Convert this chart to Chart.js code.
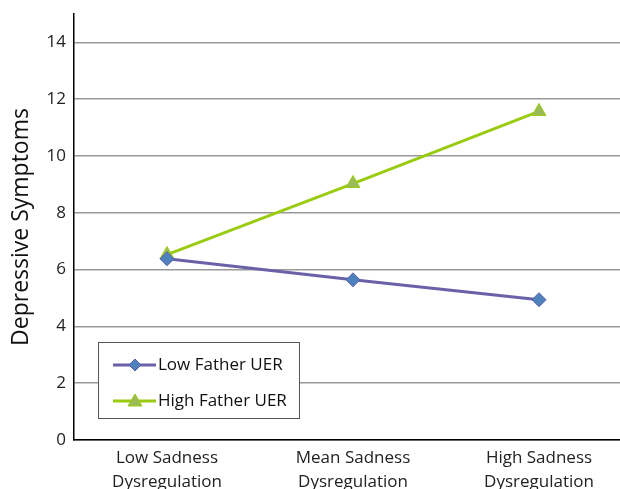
<!DOCTYPE html>
<html>
<head>
<meta charset="utf-8">
<script src="https://cdn.jsdelivr.net/npm/chart.js@4/dist/chart.umd.min.js"></script>
<style>
  html, body { margin: 0; padding: 0; background: #fff; overflow: hidden; }
  #wrap { position: relative; width: 641px; height: 489px; }
  #c { width: 641px; height: 489px; display: block; }
</style>
</head>
<body>
<div id="wrap"><canvas id="c" width="641" height="489"></canvas></div>
<script>
// Sadness dysregulation levels on the x axis
const categories = [["Low Sadness", "Dysregulation"], ["Mean Sadness", "Dysregulation"], ["High Sadness", "Dysregulation"]];
// Depressive symptoms by father unsupportive emotion responses (UER)
const lowFatherUER = [6.38, 5.64, 4.94];
const highFatherUER = [6.53, 9.03, 11.57];
const yTicks = [0, 2, 4, 6, 8, 10, 12, 14];

const FONT = "'Open Sans', Lato, sans-serif";

// Boxed legend drawn inside the plot, bottom-left
const boxLegend = {
  id: 'boxLegend',
  afterDraw(chart) {
    const ctx = chart.ctx;
    const x = 98, y = 342, w = 201, h = 76;
    ctx.save();
    ctx.fillStyle = '#fff';
    ctx.fillRect(x, y, w, h);
    ctx.strokeStyle = '#555';
    ctx.lineWidth = 1;
    ctx.strokeRect(x + 0.5, y + 0.5, w, h);
    chart.data.datasets.forEach((ds, i) => {
      const cy = y + 23 + i * 36;
      ctx.strokeStyle = ds.borderColor;
      ctx.lineWidth = 3;
      ctx.beginPath();
      ctx.moveTo(x + 15, cy);
      ctx.lineTo(x + 58, cy);
      ctx.stroke();
      ctx.fillStyle = ds.pointBackgroundColor;
      ctx.strokeStyle = ds.pointBorderColor;
      ctx.lineWidth = 1;
      ctx.beginPath();
      const cx = x + 37;
      if (ds.pointStyle === 'rectRot') {
        ctx.moveTo(cx, cy - 6); ctx.lineTo(cx + 6, cy); ctx.lineTo(cx, cy + 6); ctx.lineTo(cx - 6, cy);
      } else {
        ctx.moveTo(cx, cy - 7); ctx.lineTo(cx + 7, cy + 5); ctx.lineTo(cx - 7, cy + 5);
      }
      ctx.closePath();
      ctx.fill();
      ctx.stroke();
      ctx.fillStyle = '#111';
      ctx.font = '17px ' + FONT;
      ctx.textBaseline = 'middle';
      ctx.fillText(ds.label, x + 60, cy);
    });
    ctx.restore();
  }
};

new Chart(document.getElementById('c'), {
  type: 'line',
  data: {
    labels: categories,
    datasets: [
      {
        label: 'Low Father UER',
        data: lowFatherUER,
        borderColor: '#6962a8',
        borderWidth: 3,
        pointStyle: 'rectRot',
        pointRadius: 7,
        pointBackgroundColor: '#4f81bd',
        pointBorderColor: '#5b5ea6',
        pointBorderWidth: 1,
        tension: 0
      },
      {
        label: 'High Father UER',
        data: highFatherUER,
        borderColor: '#99cc11',
        borderWidth: 3,
        pointStyle: 'triangle',
        pointRadius: 8,
        pointBackgroundColor: '#9bbb59',
        pointBorderColor: '#99cc11',
        pointBorderWidth: 1,
        tension: 0
      }
    ]
  },
  options: {
    responsive: false,
    animation: false,
    layout: { padding: { top: 14, left: 0, right: 0, bottom: 0 } },
    plugins: { legend: { display: false }, tooltip: { enabled: false } },
    scales: {
      x: {
        offset: true,
        grid: { display: false, drawTicks: false },
        border: { display: true, color: '#000', width: 1.5 },
        ticks: { color: '#222', font: { family: FONT, size: 17, lineHeight: 1.42 }, padding: 6, maxRotation: 0 },
        afterFit(s) { s.height = 49; s.paddingLeft = 0; s.paddingRight = 0; }
      },
      y: {
        min: 0,
        max: 15,
        afterBuildTicks(s) { s.ticks = yTicks.map(v => ({ value: v })); },
        grid: { color: '#999', lineWidth: 1.5, drawTicks: false },
        border: { display: true, color: '#000', width: 1.5 },
        ticks: { color: '#222', font: { family: FONT, size: 17 }, padding: 8 },
        title: { display: true, text: 'Depressive Symptoms', color: '#111', font: { family: FONT, size: 23 }, padding: { top: 8, bottom: 0 } },
        afterFit(s) { s.width = 74; s.paddingTop = 0; s.paddingBottom = 0; }
      }
    }
  },
  plugins: [boxLegend]
});
</script>
</body>
</html>
